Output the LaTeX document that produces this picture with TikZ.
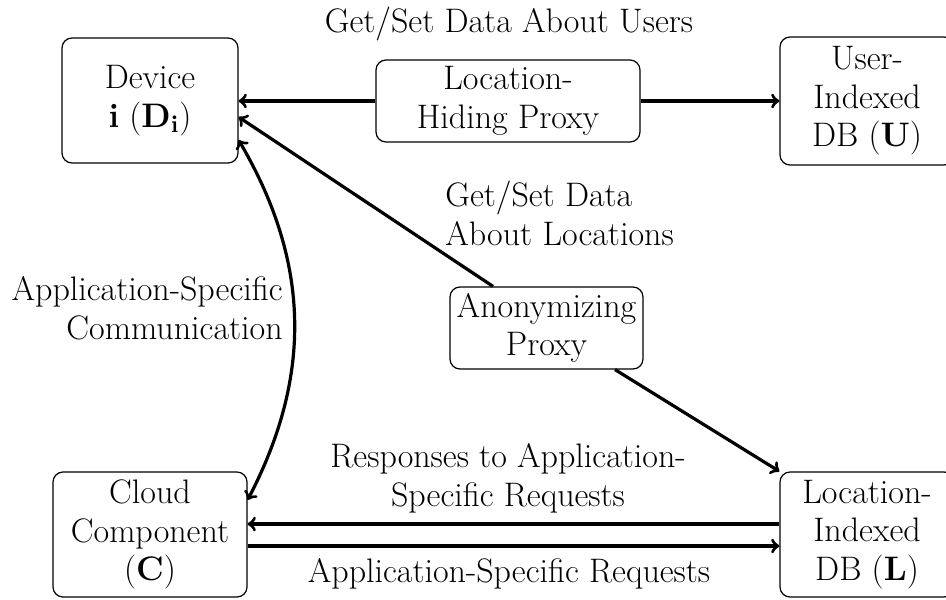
\RequirePackage{fix-cm}
\documentclass[tikz,border=0pt]{standalone}
\usetikzlibrary{calc}
\tikzset{
  box/.style={draw, rounded corners=5pt, line width=0.6pt, align=center, inner sep=0pt},
  arr/.style={line width=1.6pt},
  lbl/.style={inner sep=0pt}
}
\begin{document}
\begin{tikzpicture}[x=0.5pt,y=-0.5pt,font=\fontsize{17}{19.3}\selectfont]
\useasboundingbox (0,0) rectangle (946,599);
\clip (0,0) rectangle (946,599);
% boxes
\node[box, minimum width=88pt, minimum height=62.5pt] (D) at (150,100.5) {Device\\\textbf{i} ($\mathbf{D_i}$)};
\node[box, minimum width=132pt, minimum height=41pt] (P) at (508,101) {Location-\\Hiding Proxy};
\node[box, minimum width=87pt, minimum height=64pt] (U) at (867,101) {User-\\Indexed\\DB (\textbf{U})};
\node[box, minimum width=96.5pt, minimum height=41pt] (A) at (546.5,328) {Anonymizing\\Proxy};
\node[box, minimum width=97pt, minimum height=62.5pt] (C) at (150,534.5) {Cloud\\Component\\(\textbf{C})};
\node[box, minimum width=87pt, minimum height=62.5pt] (L) at (867,534.5) {Location-\\Indexed\\DB (\textbf{L})};
% labels
\node[lbl, anchor=base] (l1) at (509,33) {Get/Set Data About Users};
\node[lbl, align=left, anchor=west] (l2) at (445,213.5) {Get/Set Data\\About Locations};
\node[lbl, align=right, anchor=east] (l3) at (283,308) {Application-Specific\\Communication};
\node[lbl, align=center] (l4) at (508,478) {Responses to Application-\\Specific Requests};
\node[lbl, anchor=base] (l5) at (509,582) {Application-Specific Requests};
% connectors
\draw[arr,->] (P.west) -- (P.west -| D.east);
\draw[arr,->] (P.east) -- (P.east -| U.west);
\draw[arr,->] ($(A.north)+(-53.5,0)$) -- ($(D.east)+(0,16.5)$);
\draw[arr,->] ($(A.south)+(68.5,0)$) -- (L.north west);
\draw[arr,<->] ($(D.east)+(0,39.5)$) to[bend left=29] ($(C.east)+(0,-34.5)$);
\draw[arr,->] ($(L.west)+(0,-10.5)$) -- ($(C.east)+(0,-10.5)$);
\draw[arr,->] ($(C.east)+(0,11.5)$) -- ($(L.west)+(0,11.5)$);
\end{tikzpicture}
\end{document}
